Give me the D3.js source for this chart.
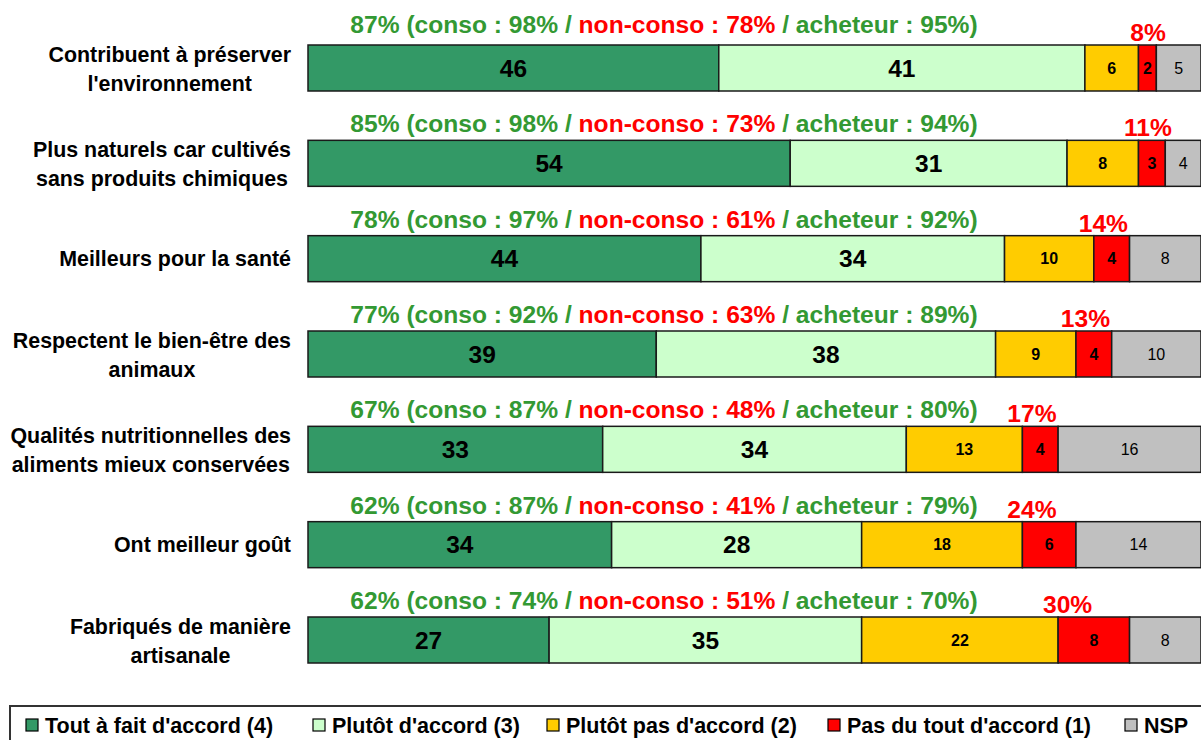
<!DOCTYPE html>
<html>
<head>
<meta charset="utf-8">
<script src="https://cdn.jsdelivr.net/npm/d3@7"></script>
<style>
  body { margin: 0; background: #fff; }
  svg { display: block; font-family: "Liberation Sans", Arial, sans-serif; }
</style>
</head>
<body>
<div id="chart"></div>
<script>
var svgWidth = 1201;
var svgHeight = 740;

// categories (line breaks as in the original)
var categories = [
  ["Contribuent à préserver", "l'environnement"],
  ["Plus naturels car cultivés", "sans produits chimiques"],
  ["Meilleurs pour la santé"],
  ["Respectent le bien-être des", "animaux"],
  ["Qualités nutritionnelles des", "aliments mieux conservées"],
  ["Ont meilleur goût"],
  ["Fabriqués de manière", "artisanale"]
];

var seriesNames = ["Tout à fait d'accord (4)", "Plutôt d'accord (3)", "Plutôt pas d'accord (2)", "Pas du tout d'accord (1)", "NSP"];
var seriesColors = ["#339966", "#CCFFCC", "#FFCC00", "#FF0000", "#C0C0C0"];

var toutAFait  = [46, 54, 44, 39, 33, 34, 27];
var plutot     = [41, 31, 34, 38, 34, 28, 35];
var plutotPas  = [6, 8, 10, 9, 13, 18, 22];
var pasDuTout  = [2, 3, 4, 4, 4, 6, 8];
var nsp        = [5, 4, 8, 10, 16, 14, 8];

// labels above bars
var totalAccord = [87, 85, 78, 77, 67, 62, 62];
var conso       = [98, 98, 97, 92, 87, 87, 74];
var nonConso    = [78, 73, 61, 63, 48, 41, 51];
var acheteur    = [95, 94, 92, 89, 80, 79, 70];
var totalPas    = [8, 11, 14, 13, 17, 24, 30];

var keys = ["s0", "s1", "s2", "s3", "s4"];
var data = categories.map(function(c, i) {
  return { id: i, s0: toutAFait[i], s1: plutot[i], s2: plutotPas[i], s3: pasDuTout[i], s4: nsp[i] };
});

var svg = d3.select("#chart")
  .append("svg")
  .attr("width", svgWidth)
  .attr("height", svgHeight);

var xScale = d3.scaleLinear().domain([0, 100]).range([308, 1201]);
var yScale = d3.scaleBand()
  .domain(d3.range(categories.length))
  .range([45, 663])
  .paddingInner(0.5175)
  .paddingOuter(0);

var stacked = d3.stack().keys(keys)(data);

// bars
var layers = svg.selectAll("g.layer").data(stacked).enter()
  .append("g")
  .attr("class", "layer")
  .attr("fill", function(d, i) { return seriesColors[i]; });

layers.selectAll("rect").data(function(d) { return d; }).enter()
  .append("rect")
  .attr("x", function(d) { return xScale(d[0]); })
  .attr("y", function(d) { return yScale(d.data.id); })
  .attr("width", function(d) { return xScale(d[1]) - xScale(d[0]); })
  .attr("height", yScale.bandwidth())
  .attr("stroke", "#1a1a1a")
  .attr("stroke-width", 1.5);

// values inside the segments
var fontSizes = [24.5, 24.5, 16, 16, 16];
var weights = ["bold", "bold", "bold", "bold", "normal"];
stacked.forEach(function(layer, si) {
  svg.append("g").selectAll("text").data(layer).enter()
    .append("text")
    .attr("x", function(d) { return (xScale(d[0]) + xScale(d[1])) / 2; })
    .attr("y", function(d) { return yScale(d.data.id) + yScale.bandwidth() / 2; })
    .attr("dy", "0.36em")
    .attr("text-anchor", "middle")
    .attr("font-size", fontSizes[si] + "px")
    .attr("font-weight", weights[si])
    .attr("fill", "#000")
    .text(function(d) { return d[1] - d[0]; });
});

// category labels: block right-aligned at 291, lines centred within the block
categories.forEach(function(lines, i) {
  var cy = yScale(i) + yScale.bandwidth() / 2;
  var t = svg.append("text")
    .attr("text-anchor", "middle")
    .attr("font-size", "21.4px")
    .attr("font-weight", "bold")
    .attr("fill", "#000");
  var spans = lines.map(function(line, k) {
    var y = lines.length === 1 ? cy + 7 : (k === 0 ? cy - 6 : cy + 23);
    return t.append("tspan").attr("y", y).text(line);
  });
  var maxW = d3.max(spans, function(s) { return s.node().getComputedTextLength(); });
  spans.forEach(function(s) { s.attr("x", 291 - maxW / 2); });
});

// green/red header above each bar
var green = "#339933";
categories.forEach(function(c, i) {
  var top = yScale(i);
  var t = svg.append("text")
    .attr("x", 664)
    .attr("y", top - (i === 0 ? 12 : 8))
    .attr("text-anchor", "middle")
    .attr("font-size", "24.6px")
    .attr("font-weight", "bold");
  t.append("tspan").attr("fill", green).text(totalAccord[i] + "% (conso : " + conso[i] + "% / ");
  t.append("tspan").attr("fill", "#FF0000").text("non-conso : " + nonConso[i] + "%");
  t.append("tspan").attr("fill", green).text(" / acheteur : " + acheteur[i] + "%)");

  svg.append("text")
    .attr("x", xScale(toutAFait[i] + plutot[i] + plutotPas[i]) + 9.5)
    .attr("y", top - 4)
    .attr("text-anchor", "middle")
    .attr("font-size", "24.6px")
    .attr("font-weight", "bold")
    .attr("fill", "#FF0000")
    .text(totalPas[i] + "%");
});

// legend
svg.append("rect")
  .attr("x", 10).attr("y", 706)
  .attr("width", 1200).attr("height", 60)
  .attr("fill", "#fff")
  .attr("stroke", "#333")
  .attr("stroke-width", 2);

var legendX = [26, 313, 547, 828, 1125];
seriesNames.forEach(function(name, i) {
  svg.append("rect")
    .attr("x", legendX[i]).attr("y", 719)
    .attr("width", 12).attr("height", 12)
    .attr("fill", seriesColors[i])
    .attr("stroke", "#000")
    .attr("stroke-width", 1.2);
  svg.append("text")
    .attr("x", legendX[i] + 19)
    .attr("y", 733)
    .attr("font-size", "21.5px")
    .attr("font-weight", "bold")
    .attr("fill", "#000")
    .text(name);
});
</script>
</body>
</html>
